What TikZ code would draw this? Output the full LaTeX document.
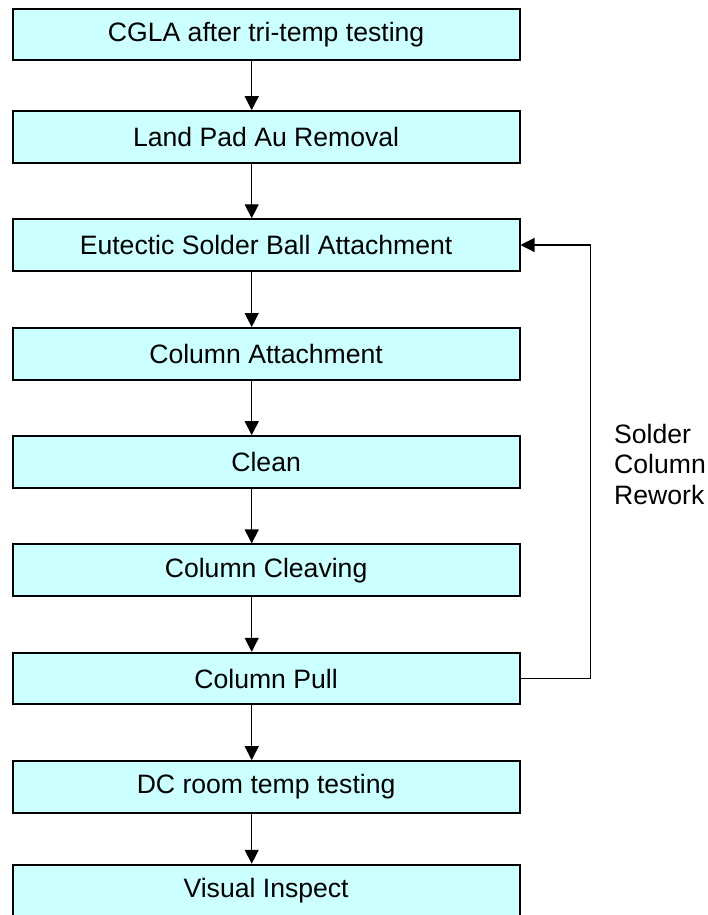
\documentclass[tikz,border=0pt]{standalone}
\usepackage{fontspec}
\setmainfont{Liberation Sans}
\usetikzlibrary{arrows.meta}
\definecolor{boxcyan}{HTML}{CCFFFF}

\begin{document}
\begin{tikzpicture}[x=1pt, y=-1pt,
    stage/.style ={rectangle, draw, line width=2pt, fill=boxcyan,
      minimum width=506.8pt, minimum height=51.5pt, inner sep=0pt,
      font=\fontsize{26.6}{30.5}\selectfont},
    flow/.style ={line width=1.2pt, -{Triangle[length=14pt,width=14pt]}}]
   \useasboundingbox (0,0) rectangle (707,915);
   \node[stage] (cgla) at (266.1,34.75) {CGLA after tri-temp testing};
   \node[stage] (landpad) at (266.1,136.9) {Land Pad Au Removal};
   \node[stage] (eutectic) at (266.1,245) {Eutectic Solder Ball Attachment};
   \node[stage] (colattach) at (266.1,353.8) {Column Attachment};
   \node[stage] (clean) at (266.1,461.9) {Clean};
   \node[stage] (cleave) at (266.1,570.2) {Column Cleaving};
   \node[stage] (pull) at (266.1,678.6) {Column Pull};
   \node[stage] (dcroom) at (266.1,786.9) {DC room temp testing};
   \node[stage] (visual) at (266.1,890.5) {Visual Inspect};
   \node[anchor=west, align=left, inner sep=0pt,
     font=\fontsize{26.6}{30.5}\selectfont] (rework) at (614,464) {Solder\\Column\\Rework};
   \draw[flow] ([xshift=-14.4pt]cgla.south) to ([xshift=-14.4pt]landpad.north);
   \draw[flow] ([xshift=-14.4pt]landpad.south) to ([xshift=-14.4pt]eutectic.north);
   \draw[flow] ([xshift=-14.4pt]eutectic.south) to ([xshift=-14.4pt]colattach.north);
   \draw[flow] ([xshift=-14.4pt]colattach.south) to ([xshift=-14.4pt]clean.north);
   \draw[flow] ([xshift=-14.4pt]clean.south) to ([xshift=-14.4pt]cleave.north);
   \draw[flow] ([xshift=-14.4pt]cleave.south) to ([xshift=-14.4pt]pull.north);
   \draw[flow] ([xshift=-14.4pt]pull.south) to ([xshift=-14.4pt]dcroom.north);
   \draw[flow] ([xshift=-14.4pt]dcroom.south) to ([xshift=-14.4pt]visual.north);
   \draw[flow] (pull.east) -- ++(70,0) |- (eutectic.east);
 \end{tikzpicture}
\end{document}
